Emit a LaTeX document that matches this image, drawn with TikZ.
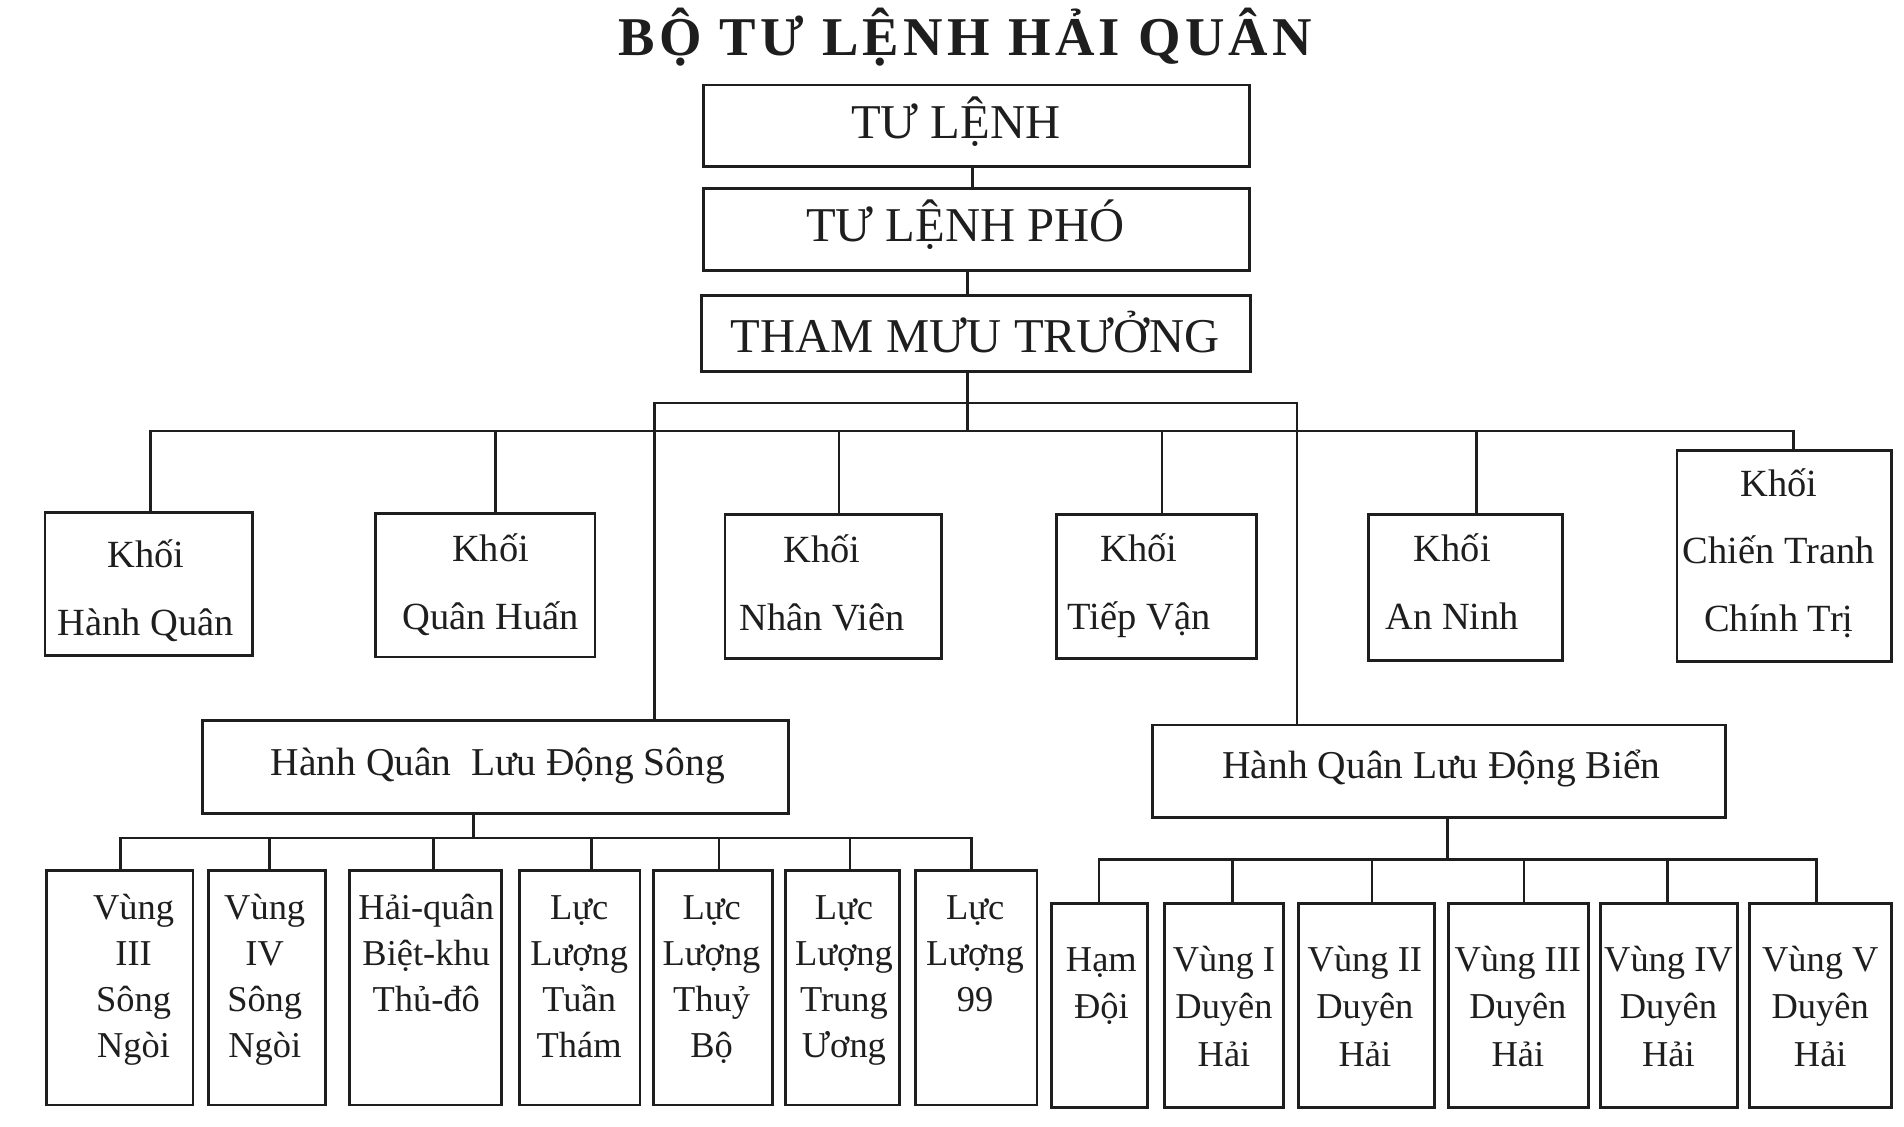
\documentclass[tikz,border=0pt]{standalone}
\usepackage{fontspec}
\setmainfont{Liberation Serif}
\newfontfamily\titlefont{Liberation Serif}[LetterSpace=8]
\definecolor{ink}{HTML}{1E1E1E}
\newcommand\bx[5]{\node[box, minimum width={(#4-#2)*0.6pt}, minimum height={(#5-#3)*0.6pt}] (#1) at ({(#2+#4)/2},{(#3+#5)/2}) {};}
\begin{document}
\begin{tikzpicture}[x=0.6pt,y=-0.6pt,
  box/.style={draw=ink, line width=1.4pt, inner sep=0pt, outer sep=0pt},
  conn/.style={draw=ink, line width=1.3pt, line cap=rect},
  ttl/.style={font=\titlefont\bfseries\fontsize{27}{30}\selectfont, anchor=base, inner sep=0pt, text=ink},
  captxt/.style={font=\fontsize{24}{28}\selectfont, anchor=base, inner sep=0pt, text=ink},
  khoitxt/.style={font=\fontsize{19}{33.4}\selectfont, align=center, anchor=base, inner sep=0pt, text=ink},
  midtxt/.style={font=\fontsize{19.5}{24}\selectfont, anchor=base, inner sep=0pt, text=ink},
  lowtxt/.style={font=\fontsize{18}{22.8}\selectfont, align=center, anchor=base, inner sep=0pt, text=ink},
  lowtxtr/.style={font=\fontsize{18}{23.4}\selectfont, align=center, anchor=base, inner sep=0pt, text=ink}]
\fill[white] (0,0) rectangle (1568,928.1);
\useasboundingbox (0,0) rectangle (1568,928.1);

% title
\node[ttl] (title) at (795,46) {BỘ TƯ LỆNH HẢI QUÂN};

% top chain
\bx{b1}{579}{70}{1029}{137}
\bx{b2}{579}{155}{1029}{223}
\bx{b3}{578}{243}{1030}{306}
\node[captxt] (t1) at (787,114) {TƯ LỆNH};
\node[captxt] (t2) at (795,199) {TƯ LỆNH PHÓ};
\node[captxt] (t3) at (803,290) {THAM MƯU TRƯỞNG};

% Khoi boxes (text anchored at baseline of last line)
\bx{k1}{37}{422}{208}{540}
\bx{k2}{309}{423}{490}{541}
\bx{k3}{597}{424}{775}{542}
\bx{k4}{870}{424}{1035}{542}
\bx{k5}{1127}{424}{1287}{544}
\bx{k6}{1381}{371}{1558}{545}
\node[khoitxt] (tk1) at (120,523) {Khối\\Hành Quân};
\node[khoitxt] (tk2) at (404,518) {Khối\\Quân Huấn};
\node[khoitxt] (tk3) at (677,519) {Khối\\Nhân Viên};
\node[khoitxt] (tk4) at (938,518) {Khối\\Tiếp Vận};
\node[khoitxt] (tk5) at (1196,518) {Khối\\An Ninh};
\node[khoitxt] (tk6) at (1465,520) {Khối\\Chiến Tranh\\Chính Trị};

% Hanh Quan Luu Dong
\bx{hs}{167}{593}{649}{670}
\bx{hb}{949}{597}{1421}{673}
\node[midtxt] (ths) at (410,639) {Hành Quân\ \ Lưu Động Sông};
\node[midtxt] (thb) at (1187,641) {Hành Quân Lưu Động Biển};

% lower left boxes
\bx{s1}{38}{717}{159}{910}
\bx{s2}{172}{717}{268}{910}
\bx{s3}{288}{717}{413}{910}
\bx{s4}{428}{717}{527}{910}
\bx{s5}{538}{717}{636}{910}
\bx{s6}{647}{717}{741}{910}
\bx{s7}{754}{717}{854}{910}
\node[lowtxt] (ts1) at (110,871) {Vùng\\III\\Sông\\Ngòi};
\node[lowtxt] (ts2) at (218,871) {Vùng\\IV\\Sông\\Ngòi};
\node[lowtxt] (ts3) at (351,833) {Hải-quân\\Biệt-khu\\Thủ-đô};
\node[lowtxt] (ts4) at (477,871) {Lực\\Lượng\\Tuần\\Thám};
\node[lowtxt] (ts5) at (586,871) {Lực\\Lượng\\Thuỷ\\Bộ};
\node[lowtxt] (ts6) at (695,871) {Lực\\Lượng\\Trung\\Ương};
\node[lowtxt] (ts7) at (803,833) {Lực\\Lượng\\99};

% lower right boxes
\bx{r1}{866}{744}{945}{912}
\bx{r2}{959}{744}{1057}{912}
\bx{r3}{1069}{744}{1181}{912}
\bx{r4}{1193}{744}{1308}{912}
\bx{r5}{1318}{744}{1431}{912}
\bx{r6}{1441}{744}{1558}{912}
\node[lowtxtr] (tr1) at (907,839) {Hạm\\Đội};
\node[lowtxtr] (tr2) at (1008,878) {Vùng I\\Duyên\\Hải};
\node[lowtxtr] (tr3) at (1124,878) {Vùng II\\Duyên\\Hải};
\node[lowtxtr] (tr4) at (1250,878) {Vùng III\\Duyên\\Hải};
\node[lowtxtr] (tr5) at (1374,878) {Vùng IV\\Duyên\\Hải};
\node[lowtxtr] (tr6) at (1499,878) {Vùng V\\Duyên\\Hải};

% connector coordinates
\coordinate (c1) at (801,0);
\coordinate (c2) at (797,0);
\coordinate (barU) at (0,332);
\coordinate (barK) at (0,355);
\coordinate (barS) at (0,690);
\coordinate (barB) at (0,708);

% top chain connectors
\draw[conn] (b1.south -| c1) -- (b2.north -| c1);
\draw[conn] (b2.south -| c2) -- (b3.north -| c2);
\draw[conn] (b3.south -| c2) -- (c2 |- barK);

% upper bar to the two operational commands
\draw[conn] (hs.north -| 539,0) |- (1068,0 |- barU) -- (hb.north -| 1068,0);

% lower bar to the Khoi boxes
\draw[conn] (k1.north -| 124,0) |- (1477,0 |- barK) -- (k6.north -| 1477,0);
\foreach \x/\n in {408/k2,691/k3,957/k4,1216/k5}
  \draw[conn] (\x,0 |- barK) -- (\n.north -| \x,0);

% river group
\draw[conn] (hs.south -| 390,0) -- (390,0 |- barS);
\draw[conn] (s1.north -| 99,0) |- (800,0 |- barS) -- (s7.north -| 800,0);
\foreach \x/\n in {222/s2,357/s3,487/s4,592/s5,700/s6}
  \draw[conn] (\x,0 |- barS) -- (\n.north -| \x,0);

% sea group
\draw[conn] (hb.south -| 1192,0) -- (1192,0 |- barB);
\draw[conn] (r1.north -| 905,0) |- (1496,0 |- barB) -- (r6.north -| 1496,0);
\foreach \x/\n in {1015/r2,1130/r3,1255/r4,1373/r5}
  \draw[conn] (\x,0 |- barB) -- (\n.north -| \x,0);
\end{tikzpicture}
\end{document}
